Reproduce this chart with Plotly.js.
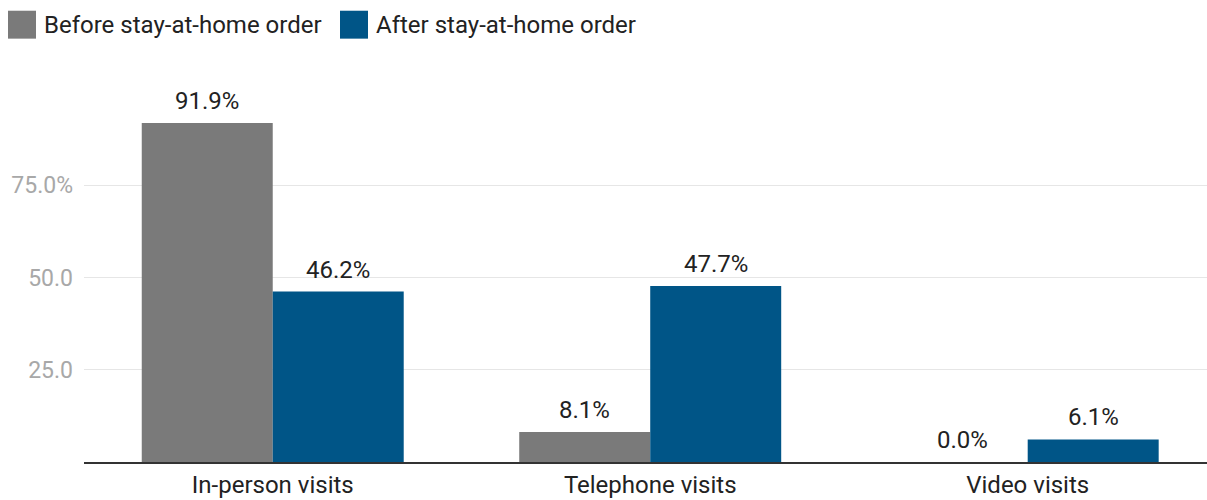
<!DOCTYPE html>
<html>
<head>
<meta charset="utf-8">
<script src="https://cdn.plot.ly/plotly-3.0.1.min.js"></script>
<style>html,body{margin:0;padding:0;background:#fff;}#chart{width:1207px;height:500px;}</style>
</head>
<body>
<div id="chart"></div>
<script>
const categories = ["In-person visits", "Telephone visits", "Video visits"];
const seriesNames = ["Before stay-at-home order", "After stay-at-home order"];
const beforeValues = [91.9, 8.1, 0.0];
const afterValues = [46.2, 47.7, 6.1];
const yTickVals = [25, 50, 75];
const yTickText = ["25.0", "50.0", "75.0%"];
const colors = ["#7a7a7a", "#005587"];

const FONT = "Roboto, 'Noto Sans', sans-serif";
const idx = categories.map((c, i) => i);
const traces = [
  {type: "bar", x: idx, y: beforeValues, name: seriesNames[0], marker: {color: colors[0]}, hoverinfo: "none"},
  {type: "bar", x: idx, y: afterValues, name: seriesNames[1], marker: {color: colors[1]}, hoverinfo: "none"}
];

const bargap = 0.306;
const half = (1 - bargap) / 4;
const annotations = [];
[beforeValues, afterValues].forEach((vals, s) => {
  vals.forEach((v, i) => {
    annotations.push({
      x: i + (s === 0 ? -half : half), y: v, xref: "x", yref: "y",
      text: v.toFixed(1) + "%", showarrow: false, yanchor: "bottom", yshift: 6,
      font: {family: FONT, size: 24, color: "#222"}
    });
  });
});

// custom legend (pixel positions converted to paper coords)
const L = 84, R = 1207, T = 92.5, B = 462.5;
const px = p => (p - L) / (R - L);
const py = p => (B - p) / (B - T);
const shapes = [];
const legendX = [[8, 36, 42], [340, 368, 374]];
seriesNames.forEach((n, s) => {
  shapes.push({type: "rect", xref: "paper", yref: "paper",
    x0: px(legendX[s][0]), x1: px(legendX[s][1]), y0: py(38), y1: py(10),
    fillcolor: colors[s], line: {width: 0}});
  annotations.push({xref: "paper", yref: "paper", x: px(legendX[s][2]), y: py(24),
    xanchor: "left", yanchor: "middle", text: n, showarrow: false,
    font: {family: FONT, size: 24, color: "#222"}});
});

const layout = {
  width: 1207, height: 500,
  margin: {l: L, r: 1207 - R, t: T, b: 500 - B},
  paper_bgcolor: "#fff", plot_bgcolor: "#fff",
  showlegend: false,
  barmode: "group", bargap: bargap, bargroupgap: 0,
  font: {family: FONT},
  xaxis: {
    range: [-0.5, 2.475], tickvals: idx, ticktext: categories,
    tickfont: {family: FONT, size: 24, color: "#222"},
    ticks: "", ticklen: 0, showgrid: false, zeroline: false,
    showline: true, linecolor: "#333", linewidth: 2, ticklabelstandoff: 0
  },
  yaxis: {
    range: [0, 100], tickvals: yTickVals, ticktext: yTickText,
    tickfont: {family: FONT, size: 23, color: "#a8a8a8"},
    ticks: "", showgrid: true, gridcolor: "#e6e6e6", gridwidth: 1,
    zeroline: false, showline: false, ticklabelstandoff: 10
  },
  annotations: annotations,
  shapes: shapes
};

Plotly.newPlot("chart", traces, layout, {displayModeBar: false, staticPlot: true});
</script>
</body>
</html>
